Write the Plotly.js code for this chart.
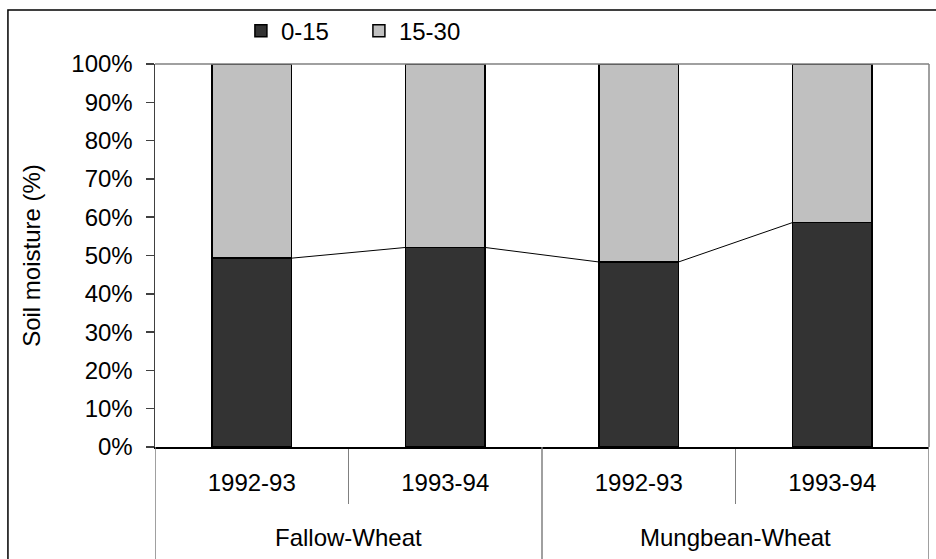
<!DOCTYPE html>
<html>
<head>
<meta charset="utf-8">
<script src="https://cdn.plot.ly/plotly-3.0.1.min.js"></script>
<style>html,body{margin:0;padding:0;background:#fff;}#chart{width:936px;height:559px;}</style>
</head>
<body>
<div id="chart"></div>
<script>
const groups = ['Fallow-Wheat', 'Fallow-Wheat', 'Mungbean-Wheat', 'Mungbean-Wheat'];
const seasons = ['1992-93', '1993-94', '1992-93', '1993-94'];
const depth0_15 = [49.3, 52.1, 48.3, 58.6];
const depth15_30 = [50.7, 47.9, 51.7, 41.4];
const yTickVals = [0, 10, 20, 30, 40, 50, 60, 70, 80, 90, 100];
const yTickText = ['0%', '10%', '20%', '30%', '40%', '50%', '60%', '70%', '80%', '90%', '100%'];

const FONT = 'Liberation Sans, Arial, sans-serif';
const FS = 24;
const barWidth = 0.41;
const idx = seasons.map((_, i) => i);

// series lines joining the tops of the lower segment
const lineX = [], lineY = [];
for (let i = 0; i < depth0_15.length - 1; i++) {
  lineX.push(i + barWidth / 2, i + 1 - barWidth / 2, null);
  lineY.push(depth0_15[i], depth0_15[i + 1], null);
}

// group boundaries and centres from the group array
const groupNames = [], groupStart = [], groupEnd = [];
groups.forEach((g, i) => {
  if (!groupNames.length || groupNames[groupNames.length - 1] !== g) {
    groupNames.push(g); groupStart.push(i); groupEnd.push(i);
  } else groupEnd[groupEnd.length - 1] = i;
});
const innerBounds = [];
for (let i = 0; i < seasons.length - 1; i++) {
  if (groups[i] === groups[i + 1]) innerBounds.push(i + 0.5);
}
const outerBounds = [groupStart[0] - 0.5].concat(groupEnd.map(e => e + 0.5));

const shapes = [
  {type: 'line', xref: 'paper', yref: 'paper', x0: 0, x1: 1, y0: 1, y1: 1, line: {color: '#808080', width: 1.5}},
  {type: 'line', xref: 'paper', yref: 'paper', x0: 1, x1: 1, y0: 0, y1: 1, line: {color: '#808080', width: 1.5}},
  {type: 'rect', xref: 'paper', yref: 'paper', x0: -0.19, x1: 1.06, y0: -0.35, y1: 1.141,
   line: {color: '#000000', width: 1.5}, fillcolor: 'rgba(0,0,0,0)', layer: 'below'}
];
outerBounds.forEach(b => shapes.push({type: 'line', xref: 'x', yref: 'paper', x0: b, x1: b, y0: 0, y1: -0.32,
  line: {color: '#808080', width: 1.5}}));

const annotations = groupNames.map((g, k) => ({
  text: g, xref: 'x', yref: 'paper', x: (groupStart[k] + groupEnd[k]) / 2, y: -0.235,
  xanchor: 'center', yanchor: 'middle', showarrow: false, font: {family: FONT, size: FS, color: '#000'}
}));

const traces = [
  {type: 'bar', name: '0-15', x: idx, y: depth0_15, width: barWidth,
   marker: {color: '#333333', line: {color: '#000000', width: 1.5}}},
  {type: 'bar', name: '15-30', x: idx, y: depth15_30, width: barWidth,
   marker: {color: '#c0c0c0', line: {color: '#000000', width: 1.5}}},
  {type: 'scatter', mode: 'lines', x: lineX, y: lineY, showlegend: false,
   line: {color: '#000000', width: 1}, hoverinfo: 'skip'}
];

const layout = {
  width: 936, height: 559,
  margin: {l: 155, r: 7, t: 64, b: 112},
  paper_bgcolor: '#ffffff', plot_bgcolor: '#ffffff',
  font: {family: FONT, size: FS, color: '#000000'},
  barmode: 'stack',
  showlegend: true,
  legend: {orientation: 'h', x: 0.111, xanchor: 'left', y: 1.086, yanchor: 'middle', bgcolor: 'rgba(0,0,0,0)',
           font: {family: FONT, size: FS}, traceorder: 'normal', itemwidth: 30, entrywidth: 73},
  xaxis: {type: 'linear', range: [-0.5, 3.5], showline: true, linecolor: '#000000', linewidth: 1.5,
          tickvals: idx, ticktext: seasons, ticks: '', ticklabelstandoff: 14,
          minor: {tickvals: innerBounds, ticks: 'outside', ticklen: 55, tickcolor: '#808080', tickwidth: 1.5, showgrid: false},
          tickfont: {family: FONT, size: FS}, showgrid: false, zeroline: false},
  yaxis: {range: [0, 100], tickvals: yTickVals, ticktext: yTickText, ticks: 'outside', ticklen: 8,
          tickcolor: '#404040', tickwidth: 1.5, showline: true, linecolor: '#404040', linewidth: 1.5,
          ticklabelstandoff: 8,
          showgrid: false, zeroline: false, tickfont: {family: FONT, size: FS},
          title: {text: 'Soil moisture (%)', font: {family: FONT, size: FS}, standoff: 24}},
  shapes: shapes,
  annotations: annotations
};

Plotly.newPlot('chart', traces, layout, {displayModeBar: false, staticPlot: true});
</script>
</body>
</html>
